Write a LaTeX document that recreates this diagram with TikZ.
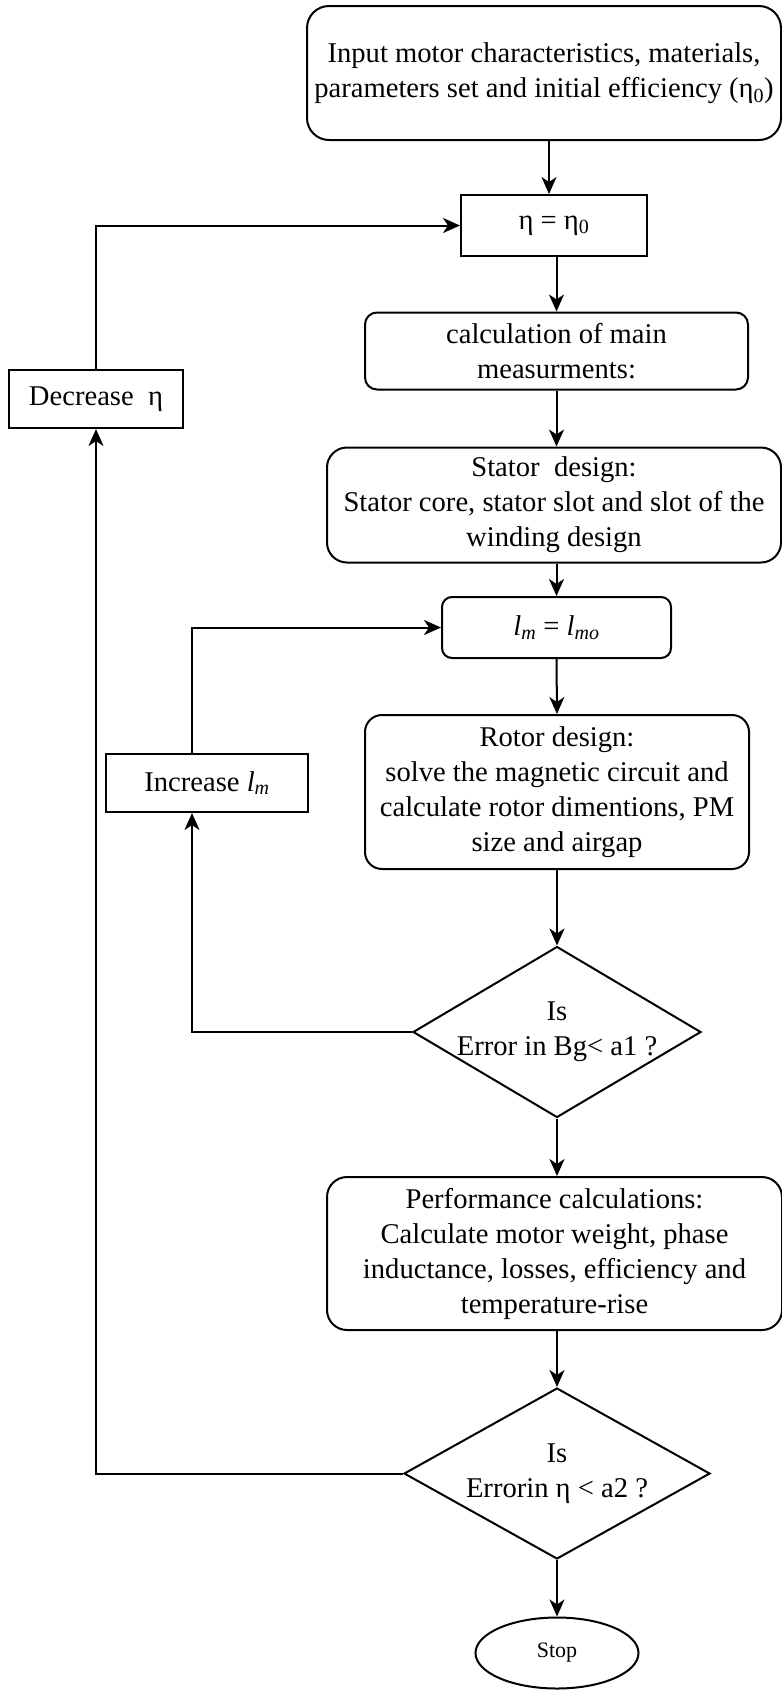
\documentclass[tikz,border=0pt]{standalone}
\usepackage{fontspec}
\setmainfont{Liberation Serif}
\usetikzlibrary{shapes.geometric, arrows.meta}
\begin{document}
\begin{tikzpicture}[x=1pt, y=-1pt,
  every node/.style={font=\fontsize{28.6}{35}\selectfont, align=center, inner sep=0pt},
  box/.style={draw, line width=2pt, rectangle},
  rbox/.style={box, rounded corners=#1},
  dia/.style={draw, diamond, line width=2pt},
  arr/.style={line width=2pt, -{Stealth[length=17pt,width=15pt,inset=5pt]}}]
\useasboundingbox (0,0) rectangle (782,1690);

\node[rbox=22pt, minimum width=474pt, minimum height=134pt] (top) at (544,73)
  {Input motor characteristics, materials,\\parameters set and initial efficiency (η\textsubscript{0})};
\node[box, minimum width=186pt, minimum height=61pt] (eta) at (554,225.5) {η = η\textsubscript{0}};
\node[rbox=12pt, minimum width=383pt, minimum height=77pt] (calc) at (556.5,351)
  {calculation of main\\measurments:};
\node[rbox=20pt, minimum width=454pt, minimum height=115pt] (stator) at (554,505)
  {Stator\ \ design:\\Stator core, stator slot and slot of the\\winding design};
\node[rbox=10pt, minimum width=229pt, minimum height=61pt] (lm) at (556.5,627.5)
  {\textit{l}\textsubscript{\textit{m}} = \textit{l}\textsubscript{\textit{mo}}};
\node[rbox=17pt, minimum width=384pt, minimum height=154pt] (rotor) at (557,792)
  {Rotor design:\\solve the magnetic circuit and\\calculate rotor dimentions, PM\\size and airgap};
\node[dia, minimum width=288pt, minimum height=171pt] (d1) at (557,1032)
  {\makebox[0pt]{Is}\\\makebox[0pt]{Error in Bg< a1 ?}};
\node[rbox=20pt, minimum width=455pt, minimum height=153pt] (perf) at (554.5,1253.5)
  {Performance calculations:\\Calculate motor weight, phase\\inductance, losses, efficiency and\\temperature-rise};
\node[dia, minimum width=306pt, minimum height=171pt] (d2) at (557,1473.5)
  {\makebox[0pt]{Is}\\\makebox[0pt]{Errorin η < a2 ?}};
\node[draw, ellipse, line width=2pt, minimum width=163pt, minimum height=71pt,
  font=\fontsize{22}{26}\selectfont] (stop) at (557,1653) {Stop};
\node[box, minimum width=174pt, minimum height=58pt] (dec) at (96,399) {Decrease\ \ η};
\node[box, minimum width=202pt, minimum height=58pt] (inc) at (207,783)
  {Increase \textit{l}\textsubscript{\textit{m}}};

\draw[arr] ([xshift=5pt]top.south) -- ([xshift=5pt]top.south |- eta.north);
\draw[arr] (eta.south -| calc.north) -- (calc.north);
\draw[arr] (calc.south) -- (calc.south |- stator.north);
\draw[arr] (stator.south -| lm.north) -- (lm.north);
\draw[arr] (lm.south) -- (rotor.north);
\draw[arr] (rotor.south) -- (d1.north);
\draw[arr] (d1.south) -- (d1.south |- perf.north);
\draw[arr] (perf.south -| d2.north) -- (d2.north);
\draw[arr] (d2.south) -- (stop.north);
\draw[arr] (d1.west) -| ([xshift=-15pt]inc.south);
\draw[arr] ([xshift=-15pt]inc.north) |- (lm.west);
\draw[arr] (d2.west) -| (dec.south);
\draw[arr] (dec.north) |- (eta.west);
\end{tikzpicture}
\end{document}
